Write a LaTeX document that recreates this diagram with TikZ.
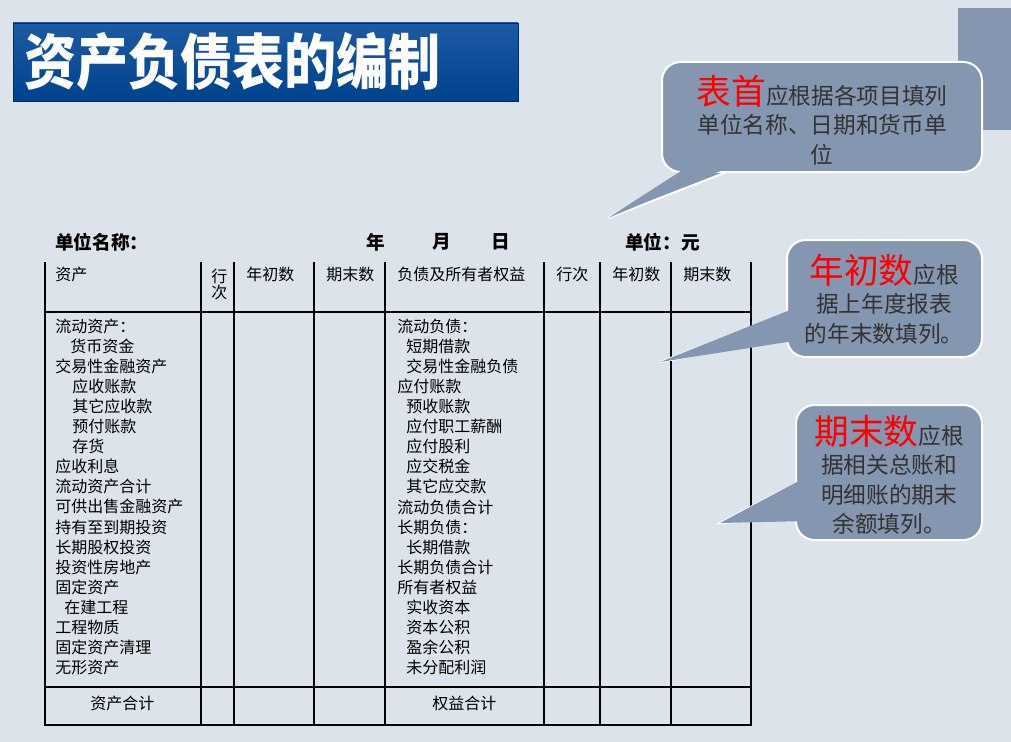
\documentclass[tikz,border=0pt]{standalone}
\usepackage{fontspec}
\setmainfont{Noto Sans CJK SC}
\usetikzlibrary{shapes.geometric}
\definecolor{bg}{RGB}{221,227,234}
\definecolor{callfill}{RGB}{132,150,176}
\definecolor{navy}{RGB}{0,66,140}
\definecolor{navyl}{RGB}{30,90,165}
\begin{document}
\begin{tikzpicture}[x=0.75pt,y=-0.75pt,
  cell/.style={anchor=west,inner sep=0pt,font=\fontsize{12}{12}\selectfont},
  hcell/.style={anchor=west,inner sep=0pt,font=\fontsize{14}{14}\selectfont\bfseries},
  tline/.style={black,line width=0.8pt},
  callbox/.style={fill=callfill,draw=white,line width=1.5pt,rounded corners=14pt},
  calltext/.style={align=center,inner sep=0pt,font=\fontsize{17}{25}\selectfont,text=black!80}]
\useasboundingbox (0,0) rectangle (1011,742);
\fill[bg] (0,0) rectangle (1011,742);
\fill[callfill] (958,8) rectangle (1011,130);
% title
\shade[top color=navyl,bottom color=navy] (13,23) rectangle (518,101);
\draw[navy!70!black,line width=0.6pt] (13,23) rectangle (518,101);
\node[anchor=west,text=white,font=\fontsize{42}{42}\selectfont\bfseries,inner sep=0pt,xscale=0.93,yscale=1.08] (title) at (24,62) {资产负债表的编制};
% header line
\node[hcell] (h1) at (55,242) {单位名称：};
\node[hcell] (h2) at (366,242) {年};
\node[hcell] (h3) at (432,242) {月};
\node[hcell] (h4) at (491,242) {日};
\node[hcell] (h5) at (625,242) {单位：元};
% table
\draw[tline] (45,262) -- (45,725) -- (751,725) -- (751,262);
\draw[tline] (45,312) -- (751,312);
\draw[tline] (45,687) -- (751,687);
\foreach \x in {201,234,314,385,544,600,671} \draw[tline] (\x,262) -- (\x,725);
\node[cell] (c1) at (55,274) {资产};
\node[cell,align=center] (c2) at (211,284) {行\\次};
\node[cell] (c3) at (246,274) {年初数};
\node[cell] (c4) at (326,274) {期末数};
\node[cell] (c5) at (397,274) {负债及所有者权益};
\node[cell] (c6) at (556,274) {行次};
\node[cell] (c7) at (612,274) {年初数};
\node[cell] (c8) at (683,274) {期末数};
\foreach \t/\x [count=\i from 0] in {流动资产：/55,货币资金/70,交易性金融资产/55,应收账款/72,其它应收款/72,预付账款/72,存货/72,应收利息/55,流动资产合计/55,可供出售金融资产/55,持有至到期投资/55,长期股权投资/55,投资性房地产/55,固定资产/55,在建工程/64,工程物质/55,固定资产清理/55,无形资产/55}
  \node[cell] (l\i) at (\x,326+20.1*\i) {\t};
\foreach \t/\x [count=\i from 0] in {流动负债：/397,短期借款/406,交易性金融负债/406,应付账款/397,预收账款/406,应付职工薪酬/406,应付股利/406,应交税金/406,其它应交款/406,流动负债合计/397,长期负债：/397,长期借款/406,长期负债合计/397,所有者权益/397,实收资本/406,资本公积/406,盈余公积/406,未分配利润/406}
  \node[cell] (r\i) at (\x,326+20.1*\i) {\t};
\node[cell] (t1) at (90,703) {资产合计};
\node[cell] (t2) at (432,703) {权益合计};
% callout 1
\coordinate (p1) at (608,218);
\draw[fill=callfill,draw=white,line width=1.5pt] (700,165) -- (p1) -- (745,165);
\draw[callbox] (662,62) rectangle (982,172);
\fill[callfill] (698,160) -- (p1) -- (747,160) -- cycle;
\node[calltext] (b1) at (822,120) {{\color{red}\fontsize{26}{26}\selectfont 表首}应根据各项目填列\\[-3pt]单位名称、日期和货币单\\[-3pt]位};
% callout 2
\coordinate (p2) at (660,362);
\draw[fill=callfill,draw=white,line width=1.5pt] (795,310) -- (p2) -- (795,337);
\draw[callbox] (787,240) rectangle (982,357);
\fill[callfill] (800,306) -- (p2) -- (800,340) -- cycle;
\node[calltext] (b2) at (884,299) {{\color{red}\fontsize{26}{26}\selectfont 年初数}应根\\[-3pt]据上年度报表\\[-3pt]的年末数填列。};
% callout 3
\coordinate (p3) at (720,523);
\draw[fill=callfill,draw=white,line width=1.5pt] (802,480) -- (p3) -- (802,518);
\draw[callbox] (796,405) rectangle (982,540);
\fill[callfill] (808,476) -- (p3) -- (808,521) -- cycle;
\node[calltext] (b3) at (889,475) {{\color{red}\fontsize{26}{26}\selectfont 期末数}应根\\[-3pt]据相关总账和\\[-3pt]明细账的期末\\[-3pt]余额填列。};
\end{tikzpicture}
\end{document}
